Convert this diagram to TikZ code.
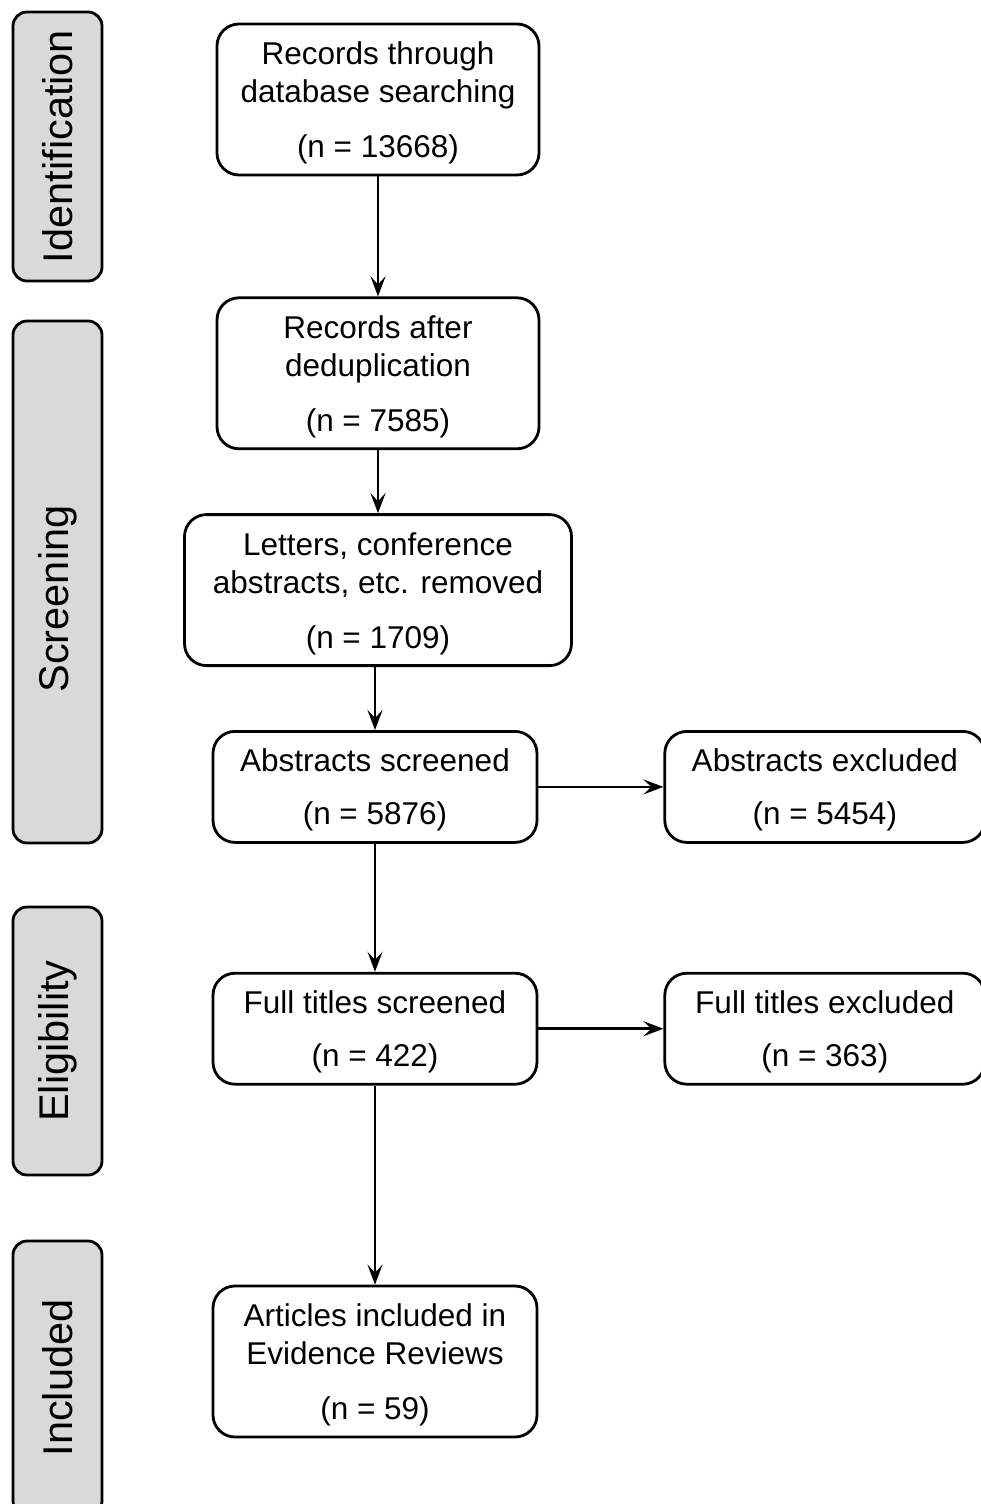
\documentclass[tikz,border=0pt]{standalone}
\usepackage{fontspec}
\setmainfont{Liberation Sans}
\usetikzlibrary{positioning,arrows.meta}
\tikzset{
  box/.style={
    draw, rounded corners=22pt, line width=2.8pt, fill=white,
    minimum width=322pt, minimum height=151pt, text depth=0pt,
    align=center, font=\fontsize{31.5}{38}\selectfont, inner sep=0pt
  },
  shortbox/.style={box, minimum width=324pt, minimum height=111pt},
  stagebox/.style={
    draw, rounded corners=14pt, line width=2.8pt, fill=black!15,
    rotate=90, minimum height=89pt, inner sep=0pt,
    font=\fontsize{41.5}{48}\selectfont
  },
  arrow/.style={-{Stealth[length=20pt,width=15pt,inset=8pt]}, line width=2.8pt}
}

\begin{document}
\begin{tikzpicture}[x=1pt, y=-1pt]
  \useasboundingbox (0,0) rectangle (980,1504);

  % stages
  \node[stagebox, minimum width=269pt] (ident) at (57.5,146.5) {Identification};
  \node[stagebox, minimum width=522pt] (screen) at (57.5,582) {Screening\hspace*{34pt}};
  \node[stagebox, minimum width=268pt] (elig) at (57.5,1041) {Eligibility};
  \node[stagebox, minimum width=274pt] (incl) at (57.5,1378) {Included};

  % flow
  \node[box] (rec) at (378,99.5) {Records through\\database searching\\[17pt](n = 13668)};
  \node[box, below=120pt of rec] (dedup) {Records after\\deduplication\\[17pt](n = 7585)};
  \node[box, minimum width=387pt, below=63pt of dedup] (removed) {Letters, conference\\abstracts, etc. removed\\[17pt](n = 1709)};
  \node[shortbox, below=63pt of removed, xshift=-3pt] (abs) {Abstracts screened\\[15pt](n = 5876)};
  \node[shortbox, minimum width=320pt, right=125pt of abs] (absex) {Abstracts excluded\\[15pt](n = 5454)};
  \node[shortbox, below=128pt of abs] (full) {Full titles screened\\[15pt](n = 422)};
  \node[shortbox, minimum width=320pt, right=125pt of full] (fullex) {Full titles excluded\\[15pt](n = 363)};
  \node[box, minimum width=324pt, below=199pt of full] (art) {Articles included in\\Evidence Reviews\\[17pt](n = 59)};

  \draw[arrow] (rec) -- (dedup);
  \draw[arrow] (dedup) -- (removed);
  \draw[arrow] (abs.north |- removed.south) -- (abs);
  \draw[arrow] (abs) -- (absex);
  \draw[arrow] (abs) -- (full);
  \draw[arrow] (full) -- (fullex);
  \draw[arrow] (full) -- (art);
\end{tikzpicture}
\end{document}
